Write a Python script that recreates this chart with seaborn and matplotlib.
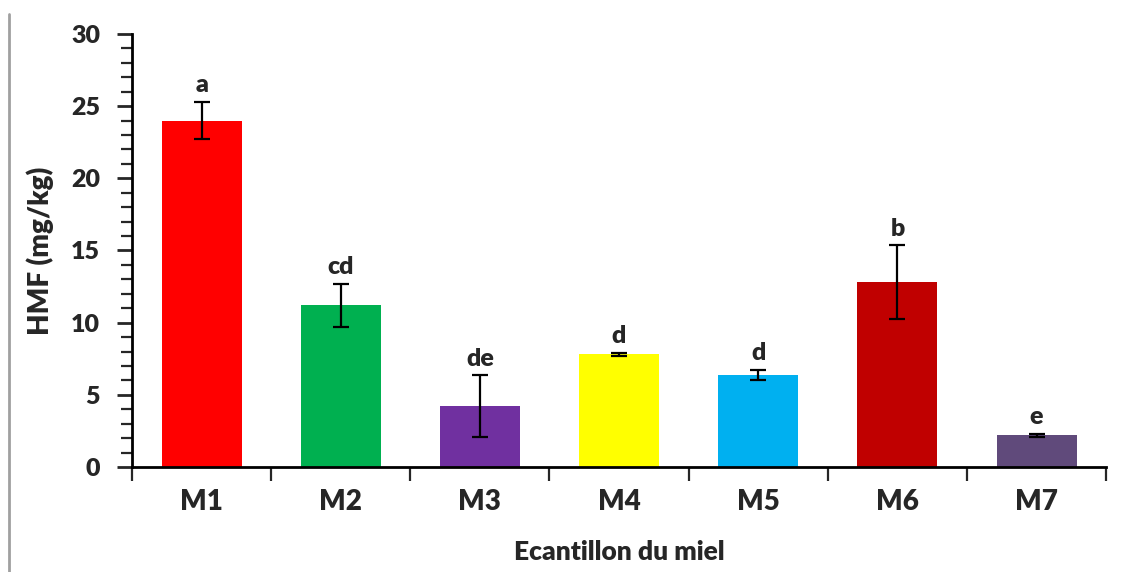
import matplotlib
matplotlib.use("Agg")
import matplotlib.pyplot as plt
from matplotlib.lines import Line2D
from matplotlib.ticker import MultipleLocator
import numpy as np
import pandas as pd
import seaborn as sns

# HMF content per honey sample (mean and standard deviation)
samples = ["M1", "M2", "M3", "M4", "M5", "M6", "M7"]
hmf_mean = [24.0, 11.2, 4.2, 7.8, 6.4, 12.8, 2.2]
hmf_sd = [1.3, 1.5, 2.15, 0.1, 0.35, 2.55, 0.1]
groups = ["a", "cd", "de", "d", "d", "b", "e"]
bar_colors = ["#FF0000", "#00B050", "#7030A0", "#FFFF00", "#00B0F0", "#C00000", "#604A7B"]

sns.set_style("white")
plt.rcParams["font.family"] = ["Lato", "DejaVu Sans"]
plt.rcParams["font.weight"] = "bold"

df = pd.DataFrame({"sample": samples, "hmf": hmf_mean})

fig = plt.figure(figsize=(11.31, 5.72), dpi=100)
ax = fig.add_axes([0.1167, 0.1836, 0.978 - 0.1167, 0.9406 - 0.1836])

sns.barplot(data=df, x="sample", y="hmf", hue="sample",
            palette=dict(zip(samples, bar_colors)), order=samples,
            errorbar=None, width=0.575, legend=False, saturation=1,
            linewidth=0, ax=ax)

x = np.arange(len(samples))
ax.errorbar(x, hmf_mean, yerr=hmf_sd, fmt="none", ecolor="black",
            elinewidth=1.6, capsize=6, capthick=1.6)

W = "heavy"
for xi, m, s, g in zip(x, hmf_mean, hmf_sd, groups):
    ax.annotate(g, (xi, m + s), xytext=(0, 4), textcoords="offset points",
                ha="center", va="bottom", fontsize=18, fontweight=W)

ax.set_ylim(0, 30)
ax.set_xlim(-0.5, len(samples) - 0.5)
ax.yaxis.set_major_locator(MultipleLocator(5))
ax.yaxis.set_minor_locator(MultipleLocator(1))
ax.set_xticks(x)
ax.set_xticklabels(samples)
ax.set_xticks(np.arange(-0.5, len(samples)), minor=True)

for side in ("top", "right"):
    ax.spines[side].set_visible(False)
for side in ("left", "bottom"):
    ax.spines[side].set_linewidth(2)
    ax.spines[side].set_color("black")

ax.tick_params(axis="y", which="major", direction="out", length=11, width=2,
               labelsize=18, pad=12, left=True)
ax.tick_params(axis="y", which="minor", direction="out", length=8, width=1.6, left=True)
ax.tick_params(axis="x", which="major", length=0, labelsize=20, pad=16)
ax.tick_params(axis="x", which="minor", direction="out", length=10, width=1.6, bottom=True)
for lab in ax.get_xticklabels() + ax.get_yticklabels():
    lab.set_fontweight(W)

ax.set_xlabel("Ecantillon du miel", fontsize=19, fontweight=W, labelpad=18)
ax.set_ylabel("HMF (mg/kg)", fontsize=20, fontweight=W, labelpad=12)

# thin grey rule along the left edge
fig.add_artist(Line2D([8.5 / 1131, 8.5 / 1131], [0, 1 - 14 / 572],
                      transform=fig.transFigure, color="#A0A0A0", linewidth=2))

fig.savefig("out.png", dpi=100)
